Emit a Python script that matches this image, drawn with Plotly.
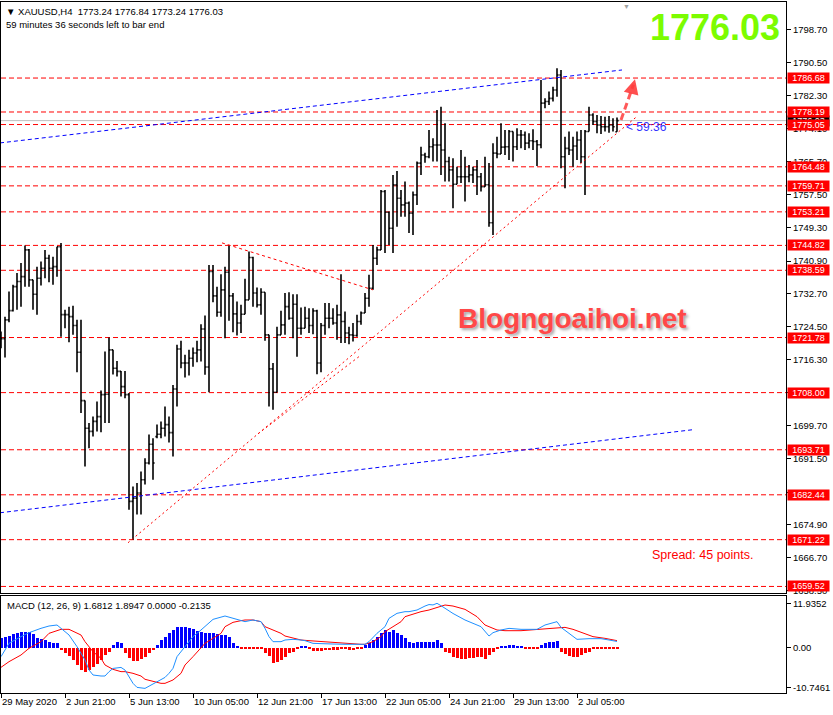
import plotly.graph_objects as go

# ---------------- DATA ----------------
opens = [1721.0,1721.5,1726.2,1728.5,1734.5,1735.8,1737.0,1743.7,1736.2,1732.6,
         1736.6,1739.1,1741.6,1739.1,1739.5,1744.5,1727.5,1727.5,1727.0,1724.8,
         1718.1,1706.0,1699.1,1698.3,1700.8,1702.0,1707.5,1707.6,1718.7,1714.1,
         1713.3,1709.5,1707.5,1680.8,1681.6,1682.9,1686.2,1690.4,1695.1,1697.0,
         1697.6,1699.1,1700.0,1698.0,1708.9,1718.9,1715.4,1715.4,1716.6,1717.9,
         1718.7,1723.9,1714.4,1738.3,1732.2,1728.1,1733.7,1738.1,1732.2,1727.7,
         1725.4,1727.6,1731.2,1741.8,1732.9,1729.95,1733.1,1722.45,1713.95,1708.1,
         1722.45,1724.95,1729.5,1726.6,1730.1,1724.1,1724.1,1726.6,1724.8,1728.45,
         1715.4,1724.8,1726.6,1726.6,1725.4,1727.45,1725.8,1722.9,1722.45,1722.3,
         1725.8,1727.9,1731.6,1734.1,1741.6,1743.7,1758.3,1753.1,1749.1,1759.95,
         1756.6,1754.95,1755.4,1752.9,1757.45,1765.4,1767.45,1767.0,1769.5,1769.95,
         1769.95,1768.7,1765.8,1763.7,1760.1,1762.0,1762.0,1762.0,1762.45,1763.7,
         1762.0,1759.5,1760.0,1750.5,1767.9,1767.7,1769.4,1769.5,1773.3,1769.5,
         1772.45,1772.45,1770.4,1771.0,1770.8,1770.0,1780.4,1780.8,1781.6,1783.7,
         1787.45,1767.0,1769.1,1768.7,1769.7,1771.2,1767.0,1773.3,1777.45,1775.8,
         1774.95,1774.5,1774.5,1774.95,1773.24]
highs = [1723.3,1727.0,1733.3,1735.0,1737.9,1740.4,1744.8,1743.9,1736.2,1739.5,
         1740.8,1743.7,1742.5,1742.0,1744.5,1745.4,1728.7,1729.5,1729.7,1726.2,
         1726.2,1706.0,1700.4,1702.0,1705.8,1708.5,1718.3,1721.8,1718.7,1715.9,
         1713.4,1713.4,1707.9,1684.5,1685.4,1688.3,1691.6,1697.5,1696.6,1700.0,
         1700.8,1704.5,1702.0,1709.9,1719.95,1720.95,1717.45,1718.7,1719.3,1720.95,
         1725.1,1727.3,1739.95,1739.95,1734.5,1737.6,1739.5,1744.8,1732.9,1730.8,
         1729.95,1736.45,1743.3,1742.0,1734.3,1734.1,1733.1,1722.45,1715.4,1724.5,
         1728.45,1732.9,1733.1,1732.6,1732.6,1729.3,1729.5,1729.1,1729.1,1728.7,
         1725.4,1730.4,1730.4,1729.1,1729.95,1737.6,1728.3,1724.5,1725.4,1727.45,
         1728.3,1732.9,1737.45,1744.95,1744.5,1758.7,1758.7,1753.3,1762.45,1763.45,
         1758.7,1760.8,1755.8,1758.3,1765.8,1769.5,1768.0,1773.7,1771.6,1778.7,
         1779.5,1775.4,1767.0,1766.6,1764.5,1768.7,1767.0,1764.95,1764.5,1766.2,
         1762.9,1767.0,1765.4,1770.4,1772.0,1775.4,1773.7,1773.7,1773.3,1774.1,
         1773.7,1773.3,1772.9,1773.9,1771.2,1786.2,1781.6,1783.3,1784.5,1789.1,
         1788.7,1772.0,1773.3,1772.0,1773.3,1773.7,1773.7,1779.5,1777.9,1777.45,
         1777.2,1777.0,1777.2,1776.6,1776.84]
lows = [1719.1,1716.8,1725.6,1728.3,1728.7,1729.5,1734.5,1734.5,1728.7,1727.5,
        1734.8,1736.6,1735.6,1735.0,1737.0,1722.0,1724.1,1720.6,1722.5,1713.1,
        1702.9,1689.5,1694.1,1697.0,1698.3,1698.1,1700.4,1700.4,1712.5,1712.0,
        1707.0,1706.6,1678.7,1671.2,1677.5,1677.5,1685.0,1690.0,1686.2,1696.6,
        1696.6,1697.0,1695.5,1692.0,1704.5,1714.1,1711.8,1712.3,1714.5,1715.6,
        1715.8,1712.45,1708.1,1730.6,1727.0,1727.0,1721.6,1725.95,1723.1,1722.3,
        1722.9,1727.6,1731.2,1729.5,1729.3,1727.45,1720.95,1704.5,1703.7,1708.1,
        1722.45,1722.45,1726.2,1721.6,1717.0,1722.45,1724.1,1722.9,1722.6,1712.6,
        1713.1,1722.45,1724.1,1724.95,1721.2,1720.4,1720.4,1720.1,1720.8,1722.0,
        1724.95,1727.9,1729.5,1733.7,1739.95,1743.7,1742.9,1744.95,1742.9,1749.5,
        1752.0,1752.0,1747.9,1747.45,1754.95,1762.45,1765.5,1766.6,1765.8,1765.8,
        1762.45,1760.8,1760.8,1754.1,1760.1,1760.4,1755.8,1760.6,1760.4,1757.45,
        1758.3,1759.5,1749.5,1747.45,1766.6,1767.7,1767.45,1766.2,1765.8,1768.7,
        1769.1,1768.7,1769.1,1768.7,1764.7,1769.1,1779.1,1779.95,1780.8,1782.0,
        1764.1,1759.1,1767.45,1764.5,1766.2,1765.4,1757.45,1773.3,1774.95,1772.9,
        1772.7,1773.3,1773.0,1773.3,1773.24]
closes = [1721.5,1726.2,1728.5,1734.5,1735.8,1737.0,1743.7,1736.2,1732.6,1736.6,
          1739.1,1741.6,1739.1,1739.5,1744.5,1727.5,1727.5,1727.0,1724.8,1718.1,
          1706.0,1699.1,1698.3,1700.8,1702.0,1707.5,1707.6,1718.7,1714.1,1713.3,
          1709.5,1707.5,1680.8,1681.6,1682.9,1686.2,1690.4,1695.1,1690.4,1697.6,
          1699.1,1700.0,1698.0,1708.9,1718.9,1715.4,1715.4,1716.6,1717.9,1718.7,
          1723.9,1714.4,1738.3,1732.2,1728.1,1733.7,1738.1,1732.2,1727.7,1725.4,
          1727.6,1731.2,1741.8,1732.9,1729.95,1733.1,1722.45,1713.95,1708.1,1722.45,
          1724.95,1729.5,1726.6,1730.1,1724.1,1724.1,1726.6,1724.8,1728.45,1715.4,
          1724.8,1726.6,1726.6,1725.4,1727.45,1725.8,1722.9,1722.45,1722.3,1725.8,
          1727.9,1731.6,1734.1,1741.6,1743.7,1758.3,1753.1,1749.1,1759.95,1756.6,
          1754.95,1755.4,1752.9,1757.45,1765.4,1767.45,1767.0,1769.5,1769.95,1769.95,
          1768.7,1765.8,1763.7,1760.1,1762.0,1762.0,1762.0,1762.45,1763.7,1762.0,
          1759.5,1760.0,1750.5,1767.9,1767.7,1769.4,1769.5,1773.3,1769.5,1772.45,
          1772.45,1770.4,1771.0,1770.8,1770.0,1780.4,1780.8,1781.6,1783.7,1787.45,
          1767.0,1769.1,1768.7,1769.7,1771.2,1767.0,1773.3,1777.45,1775.8,1774.95,
          1774.5,1774.5,1774.95,1774.5,1776.03]

macd_hist = [2.5,2.97,3.2,3.6,3.86,4.1,4.3,4.1,3.6,2.5,
             2.25,2.07,1.62,1.35,1.35,-0.62,-1.34,-2.24,-3.33,-4.68,
             -6.03,-6.48,-6.03,-5.3,-4.4,-3.33,-1.96,-1.07,0.73,1.44,
             1.17,-1.34,-2.86,-3.49,-3.49,-3.13,-2.41,-1.34,-0.62,0.73,
             2.07,2.97,3.86,4.76,5.47,5.65,5.47,5.2,4.94,4.58,
             4.31,4.04,4.04,3.86,3.6,3.41,3.41,2.97,1.35,0.2,
             -0.26,-0.35,-0.26,-0.35,-0.35,-0.44,-1.51,-2.24,-4.2,-3.76,
             -3.3,-2.41,-1.51,-1.07,-0.44,0.2,0.28,-0.26,-0.8,-0.98,
             -0.8,-0.62,-0.62,-0.53,-0.53,-0.44,-0.44,-0.53,-0.62,-0.44,
             -0.26,0.73,1.35,2.07,2.97,4.04,4.76,4.31,4.76,3.86,
             3.41,2.5,1.62,1.35,1.44,1.44,1.44,1.44,1.62,2.07,
             1.17,-1.07,-1.51,-2.41,-2.86,-3.04,-3.04,-2.86,-2.86,-2.41,
             -2.41,-3.04,-1.96,-1.07,-0.44,0.28,0.46,0.64,0.64,0.46,
             0.2,-0.26,-0.35,-0.44,-0.26,0.73,1.17,1.44,1.62,1.89,
             -1.07,-1.69,-2.24,-2.6,-2.41,-1.96,-1.51,-1.07,-0.35,-0.26,
             -0.26,-0.26,-0.26,-0.26,-0.2135]

macd_line_idx = [0,2,5,7,10,12,14,15,17,19,21,22,23,25,26,27,28,30,31,33,34,36,37,39,41,42,43,44,46,48,
                 50,52,53,56,58,60,61,63,65,66,67,68,70,71,73,75,76,78,81,83,86,88,90,91,92,94,96,97,99,101,
                 102,104,106,107,108,109,110,111,113,116,118,120,122,123,125,127,130,134,136,139,140,142,144,147,150,152,154]
macd_line_val = [-2.41,1.17,2.97,4.04,5.21,5.83,6.10,5.21,3.42,0.28,-3.30,-5.99,-7.34,-7.61,-7.61,-6.46,-5.57,-5.30,-6.01,-9.58,
                 -10.67,-10.94,-10.31,-9.16,-7.99,-6.89,-5.55,-2.41,0.28,2.97,4.76,6.73,7.62,8.52,7.90,7.27,7.0,7.45,7.0,5.21,
                 2.97,1.62,1.62,2.07,2.25,2.07,1.89,1.17,0.99,0.99,0.91,0.91,0.73,0.91,1.62,3.86,5.65,7.89,9.24,9.69,
                 9.69,10.13,11.2,11.6,11.5,11.93,11.3,10.6,9.2,7.45,6.55,5.65,3.14,4.04,4.76,5.2,4.94,4.94,6.1,7.0,
                 5.47,3.86,2.25,2.43,2.43,2.07,1.6812]
signal_idx = [0,2,5,7,10,12,15,17,20,21,23,25,26,28,30,31,33,35,36,38,40,41,43,45,46,48,50,51,53,55,
              56,58,60,61,63,65,66,68,70,71,73,75,77,80,83,86,90,91,93,95,96,98,100,101,103,105,107,109,111,113,
              116,119,121,124,126,130,134,137,141,143,146,148,151,154]
signal_val = [-5.28,-3.76,-1.96,-0.17,1.62,3.86,4.94,4.94,3.41,1.62,-1.07,-2.86,-4.65,-5.82,-6.44,-6.44,-6.89,-7.61,-8.5,-9.13,
              -9.58,-9.58,-8.68,-6.89,-4.65,-2.41,-0.17,1.17,2.52,3.86,5.65,6.82,7.27,7.45,7.45,7.0,5.65,4.76,3.86,3.14,
              2.52,2.07,1.89,1.62,1.35,1.17,0.91,0.91,1.62,2.97,4.31,5.65,6.99,8.34,9.06,9.69,10.13,10.85,11.48,11.2,
              10.31,8.34,6.1,4.76,4.57,4.57,4.94,5.2,5.47,4.94,3.86,2.97,2.52,1.8947]

levels = [1786.68,1778.19,1775.05,1764.48,1759.71,1753.21,1744.82,1738.59,
          1721.78,1708.00,1693.71,1682.44,1671.22,1659.52]
bid_price = 1776.03
price_ticks = [1798.70,1790.50,1782.30,1774.10,1765.70,1757.50,1749.30,1740.90,1732.70,
               1724.50,1716.30,1708.10,1699.70,1691.50,1683.10,1674.90,1666.70,1658.50]
price_tick_labels = ["1798.70","1790.50","1782.30","1774.10","1765.70","1757.50","1749.30","1740.90","1732.70",
                     "1724.50","1716.30","","1699.70","1691.50","","1674.90","1666.70","1658.50"]
time_tick_idx = [0,16,32,48,64,80,96,112,128,144]
time_tick_labels = ["29 May 2020","2 Jun 21:00","5 Jun 13:00","10 Jun 05:00","12 Jun 21:00",
                    "17 Jun 13:00","22 Jun 05:00","24 Jun 21:00","29 Jun 13:00","2 Jul 05:00"]
macd_ticks = [11.9352, 0.0, -10.7461]
macd_tick_labels = ["11.9352", "0.00", "-10.7461"]

# trend lines: (bar index, price) endpoints
upper_channel = ([-0.25, 155.25], [1770.45, 1788.7])
lower_channel = ([-0.25, 172.75], [1677.95, 1698.7])
rising_trend_a = ([31.75, 158.9], [1670.45, 1777.0])
rising_trend_b = ([64.25, 89.75], [1697.7, 1717.2])
falling_trend = ([55.25, 93.0], [1745.45, 1733.7])
arrow_line = ([155.0, 158.1], [1776.2, 1785.0])
arrow_head = (158.5, 1786.4)

# ---------------- FIGURE ----------------
FONT = "Liberation Sans, Arial, sans-serif"
n = len(closes)
idx = list(range(n))
X_MAX = 196.25

fig = go.Figure()

fig.add_trace(go.Ohlc(
    x=idx, open=opens, high=highs, low=lows, close=closes,
    increasing=dict(line=dict(color="black", width=1.6)),
    decreasing=dict(line=dict(color="black", width=1.6)),
    tickwidth=0.4, xaxis="x", yaxis="y", showlegend=False, hoverinfo="skip"))

def tline(pts, color, dash, width=1):
    fig.add_trace(go.Scatter(x=pts[0], y=pts[1], mode="lines",
                             line=dict(color=color, dash=dash, width=width),
                             xaxis="x", yaxis="y", showlegend=False, hoverinfo="skip"))

tline(upper_channel, "#0000FF", "4px,3px")
tline(lower_channel, "#0000FF", "4px,3px")
tline(rising_trend_a, "#FF0000", "2px,3px")
tline(rising_trend_b, "#FF0000", "2px,3px")
tline(falling_trend, "#FF0000", "3px,3px")
tline(arrow_line, "rgba(255,60,60,0.85)", "7px,4px", 3)

# MACD panel
fig.add_trace(go.Bar(
    x=idx, y=macd_hist, marker=dict(color=["#0000FF" if v > 0 else "#FF0000" for v in macd_hist], line=dict(width=0)),
    width=0.75, xaxis="x2", yaxis="y2", showlegend=False, hoverinfo="skip"))
fig.add_trace(go.Scatter(x=signal_idx, y=signal_val, mode="lines", line=dict(color="#FF0000", width=1),
                         xaxis="x2", yaxis="y2", showlegend=False, hoverinfo="skip"))
fig.add_trace(go.Scatter(x=macd_line_idx, y=macd_line_val, mode="lines", line=dict(color="#1E90FF", width=1),
                         xaxis="x2", yaxis="y2", showlegend=False, hoverinfo="skip"))

shapes = []
for lv in levels:
    shapes.append(dict(type="line", xref="paper", x0=0, x1=1, yref="y", y0=lv, y1=lv,
                       line=dict(color="#FF0000", width=1, dash="5px,3px"), layer="below"))
shapes.append(dict(type="line", xref="paper", x0=0, x1=1, yref="y", y0=bid_price, y1=bid_price,
                   line=dict(color="#C0C0C0", width=1), layer="below"))

W = 833
PL, PR = 1, 786
def xp(px):
    return (px - PL) / (PR - PL)

ann = []
# current price box (black) then level boxes (red)
ann.append(dict(xref="paper", x=1, xanchor="left", xshift=1, yref="y", y=bid_price, yanchor="middle",
                text=f"{bid_price:.2f}", showarrow=False, bgcolor="black", width=41, height=10,
                borderpad=0, font=dict(family=FONT, size=9, color="white")))
for lv in levels:
    ann.append(dict(xref="paper", x=1, xanchor="left", xshift=1, yref="y", y=lv, yanchor="middle",
                    text=f"{lv:.2f}", showarrow=False, bgcolor="#FF0000", width=41, height=10,
                    borderpad=0, font=dict(family=FONT, size=9, color="white")))

def txt(text, px, py, size, color, anchor="left", bold=False, shadow=None, family=FONT):
    f = dict(family=family, size=size, color=color)
    if bold:
        f["weight"] = "bold"
    if shadow:
        f["shadow"] = shadow
    ann.append(dict(xref="paper", yref="paper", x=xp(px), y=1, xanchor=anchor, yanchor="middle",
                    yshift=-(py - 2), text=text, showarrow=False, font=f))

txt("▼ XAUUSD,H4  1773.24 1776.84 1773.24 1776.03", 4, 11, 9.5, "black")
txt("59 minutes 36 seconds left to bar end", 4, 24, 9.5, "black")
txt("1776.03", 782, 27, 36, "#7CFC00", anchor="right", bold=True)
txt("▼", 626, 6, 7, "#A0A0A0", anchor="center")
txt("Blogngoaihoi.net", 572, 318, 28, "#FF4848", anchor="center", bold=True,
    shadow="2px 2px 3px rgba(0,0,0,0.35)")
txt("Spread: 45 points.", 650, 555, 12.5, "#FF0000")
txt("< 59:36", 624, 127, 12, "#3333FF")
txt("MACD (12, 26, 9) 1.6812 1.8947 0.0000 -0.2135", 5, 605, 9.5, "black")

ann.append(dict(xref="x", yref="y", x=arrow_head[0], y=arrow_head[1], axref="x", ayref="y",
                ax=arrow_line[0][1] - 0.3, ay=arrow_line[1][1] - 1.2, showarrow=True, arrowhead=2,
                arrowsize=1, arrowwidth=3, arrowcolor="rgba(255,60,60,0.9)", text=""))

T, B = 2, 22
H = 715
ph = H - T - B
main_bottom_px, macd_top_px = 593, 596
main_dom = [(H - B - main_bottom_px) / ph, 1]
macd_dom = [0, (H - B - macd_top_px) / ph]

axis_common = dict(showgrid=False, zeroline=False, showline=True, mirror=True,
                   linecolor="black", linewidth=1)

fig.update_layout(
    width=W, height=H,
    margin=dict(l=PL, r=W - PR, t=T, b=B),
    paper_bgcolor="white", plot_bgcolor="white",
    font=dict(family=FONT, size=9, color="black"),
    bargap=0, showlegend=False,
    xaxis=dict(domain=[0, 1], anchor="y", range=[0, X_MAX], showticklabels=False, ticks="",
               rangeslider=dict(visible=False), **axis_common),
    yaxis=dict(domain=main_dom, anchor="x", side="right", range=[1657.88, 1805.7],
               tickvals=price_ticks, ticktext=price_tick_labels,
               ticks="outside", ticklen=4, tickcolor="black",
               tickfont=dict(family=FONT, size=9.5, color="black"), **axis_common),
    xaxis2=dict(domain=[0, 1], anchor="y2", range=[0, X_MAX], tickvals=time_tick_idx,
                ticktext=time_tick_labels, ticks="outside", ticklen=4, tickcolor="black",
                ticklabelposition="outside right",
                tickfont=dict(family=FONT, size=9.5, color="black"), **axis_common),
    yaxis2=dict(domain=macd_dom, anchor="x2", side="right", range=[-12.18, 13.9],
                tickvals=macd_ticks, ticktext=macd_tick_labels, ticks="outside", ticklen=4,
                tickcolor="black", tickfont=dict(family=FONT, size=9.5, color="black"), **axis_common),
    shapes=shapes, annotations=ann,
)

fig.write_html("out.html", config={"displayModeBar": False})

# remove the default page margin so the figure sits at the window's top-left corner
with open("out.html", "r", encoding="utf-8") as fh:
    page = fh.read()
page = page.replace("<head>", "<head><style>html,body{margin:0;padding:0;overflow:hidden;}</style>", 1)
with open("out.html", "w", encoding="utf-8") as fh:
    fh.write(page)
